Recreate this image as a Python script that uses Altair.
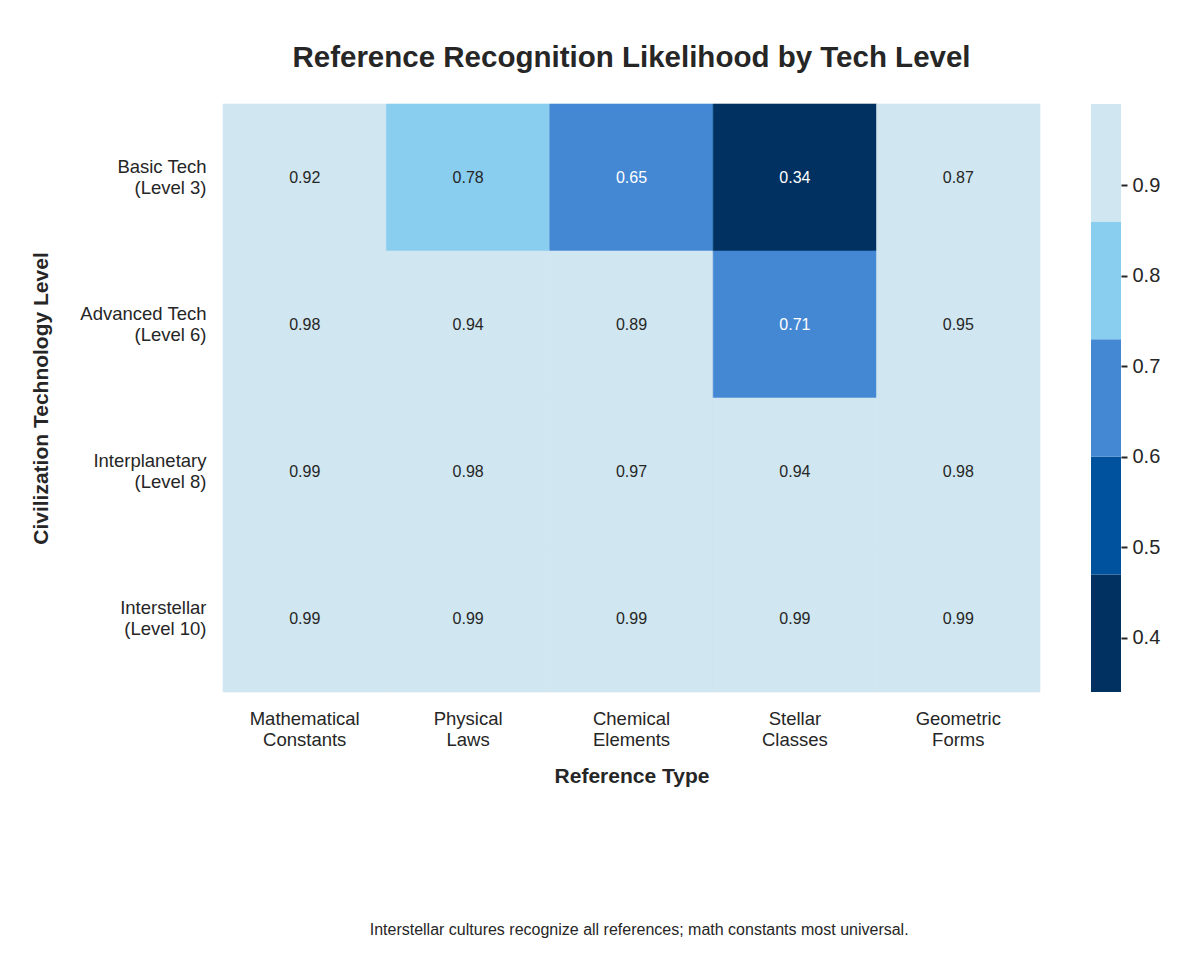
import altair as alt
import pandas as pd
import numpy as np

levels = ["Basic Tech\n(Level 3)", "Advanced Tech\n(Level 6)", "Interplanetary\n(Level 8)", "Interstellar\n(Level 10)"]
ref_types = ["Mathematical\nConstants", "Physical\nLaws", "Chemical\nElements", "Stellar\nClasses", "Geometric\nForms"]
values = [
    [0.92, 0.78, 0.65, 0.34, 0.87],
    [0.98, 0.94, 0.89, 0.71, 0.95],
    [0.99, 0.98, 0.97, 0.94, 0.98],
    [0.99, 0.99, 0.99, 0.99, 0.99],
]
color_range = ["#003160", "#00529f", "#4488d4", "#89cdef", "#d0e6f0"]
vmin, vmax = 0.34, 0.99
cbar_ticks = [0.4, 0.5, 0.6, 0.7, 0.8, 0.9]

rows = []
for i, lev in enumerate(levels):
    for j, rt in enumerate(ref_types):
        rows.append({"level": lev, "ref": rt, "value": values[i][j]})
df = pd.DataFrame(rows)

edges = np.linspace(vmin, vmax, len(color_range) + 1)
cb = pd.DataFrame({"lo": edges[:-1], "hi": edges[1:]})
cb["value"] = (cb["lo"] + cb["hi"]) / 2

FONT = "Liberation Sans"
color_scale = alt.Scale(type="quantize", domain=[vmin, vmax], range=color_range)

base = alt.Chart(df).encode(
    x=alt.X("ref:N", sort=ref_types, title="Reference Type",
            axis=alt.Axis(labelAngle=0, labelExpr="split(datum.label, '\\n')",
                          labelFontSize=18.5, labelLineHeight=21, labelPadding=17,
                          ticks=False, domain=False, titleFontSize=21, titleFontWeight="bold",
                          titlePadding=17, labelColor="#262626", titleColor="#262626")),
    y=alt.Y("level:N", sort=levels, title="Civilization Technology Level",
            axis=alt.Axis(labelExpr="split(datum.label, '\\n')", labelFontSize=18.5,
                          labelLineHeight=21, labelPadding=17, labelOffset=-11, ticks=False,
                          domain=False, titleFontSize=21, titleFontWeight="bold", titlePadding=28,
                          labelColor="#262626", titleColor="#262626")),
)

rects = base.mark_rect(strokeWidth=0.6).encode(
    color=alt.Color("value:Q", scale=color_scale, legend=None),
    stroke=alt.Stroke("value:Q", scale=color_scale, legend=None),
)
texts = base.mark_text(fontSize=16, font=FONT).encode(
    text=alt.Text("value:Q", format=".2f"),
    color=alt.condition(alt.datum.value < 0.75, alt.value("white"), alt.value("#262626")),
)

heat = alt.layer(rects, texts).properties(
    width=817, height=588,
    title=alt.TitleParams("Reference Recognition Likelihood by Tech Level", fontSize=29.5,
                          fontWeight="bold", anchor="middle", offset=30, color="#262626", font=FONT),
)

cbar = alt.Chart(cb).mark_rect().encode(
    y=alt.Y("lo:Q", scale=alt.Scale(domain=[vmin, vmax], nice=False, zero=False),
            axis=alt.Axis(orient="right", values=cbar_ticks, format=".1f", tickSize=6,
                          tickColor="#262626", tickWidth=2, domain=False, grid=False,
                          labelFontSize=20, labelPadding=5, labelColor="#262626", title=None)),
    y2="hi:Q",
    color=alt.Color("value:Q", scale=color_scale, legend=None),
).properties(width=30, height=588)

chart = alt.hconcat(heat, cbar, spacing=50).properties(
    padding={"left": 22, "top": 35, "right": 5, "bottom": 5},
    title=alt.TitleParams("Interstellar cultures recognize all references; math constants most universal.",
                          orient="bottom", anchor="middle", fontSize=16, fontWeight="normal",
                          color="#262626", offset=135, dx=44, font=FONT),
).configure(font=FONT).configure_view(stroke=None)

chart.save("out.html", embed_options={"renderer": "svg", "actions": False})
